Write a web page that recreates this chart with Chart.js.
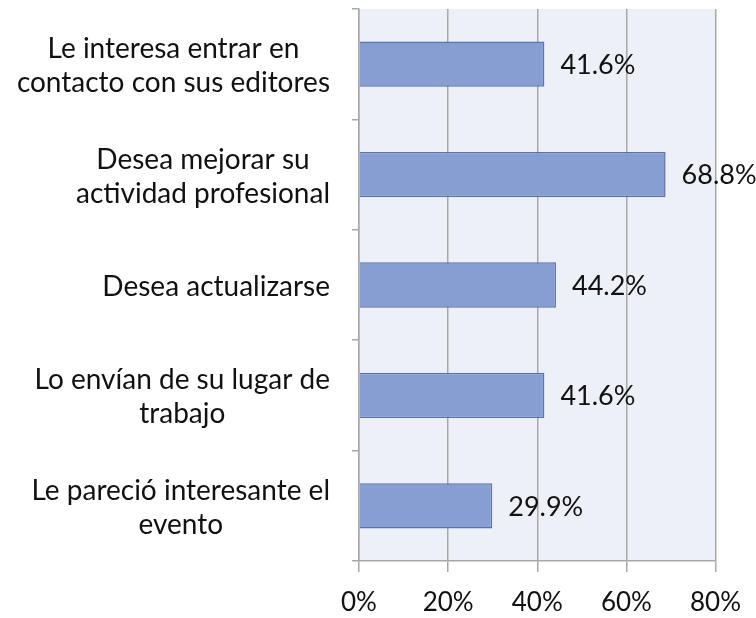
<!DOCTYPE html>
<html>
<head>
<meta charset="utf-8">
<script src="https://cdn.jsdelivr.net/npm/chart.js@4"></script>
<style>
  html, body { margin: 0; padding: 0; background: #ffffff; }
  #c { display: block; }
</style>
</head>
<body>
<canvas id="c" width="756" height="618"></canvas>
<script>
const categories = [
  ["Le interesa entrar en", "contacto con sus editores"],
  ["Desea mejorar su", "actividad profesional"],
  ["Desea actualizarse"],
  ["Lo envían de su lugar de", "trabajo"],
  ["Le pareció interesante el", "evento"]
];
const values = [41.6, 68.8, 44.2, 41.6, 29.9];
const xTicks = [0, 20, 40, 60, 80];

const FONT = "Lato";
const GRID = "#a8a8a8";

const plotBg = {
  id: "plotBg",
  beforeDraw(chart) {
    const { ctx, chartArea: a } = chart;
    ctx.save();
    ctx.fillStyle = "#edf0f6";
    ctx.fillRect(a.left, a.top, a.right - a.left, a.bottom - a.top);
    ctx.restore();
  }
};

const labelsPlugin = {
  id: "labelsPlugin",
  afterDraw(chart) {
    const { ctx } = chart;
    const y = chart.scales.y;
    const meta = chart.getDatasetMeta(0);
    ctx.save();
    ctx.fillStyle = "#111111";
    ctx.textBaseline = "middle";
    // category labels: block right-aligned, lines centered within block
    ctx.font = "28px " + FONT;
    const rightEdge = y.right - 29;
    const lineH = 34;
    categories.forEach((lines, i) => {
      const cy = y.getPixelForValue(i) + 2;
      const widths = lines.map(l => ctx.measureText(l).width);
      const w = Math.max(...widths);
      const cx = rightEdge - w / 2;
      ctx.textAlign = "center";
      lines.forEach((l, j) => {
        const ly = cy + (j - (lines.length - 1) / 2) * lineH;
        ctx.fillText(l, cx, ly);
      });
    });
    // value labels
    ctx.font = "27px " + FONT;
    ctx.textAlign = "left";
    meta.data.forEach((bar, i) => {
      ctx.fillText(values[i].toFixed(1) + "%", bar.x + 16, bar.y + 1);
    });
    ctx.restore();
  }
};

new Chart(document.getElementById("c"), {
  type: "bar",
  data: {
    labels: categories,
    datasets: [{
      data: values,
      backgroundColor: "#879ed2",
      borderColor: "#5873b0",
      borderWidth: 1.5,
      barPercentage: 0.41,
      categoryPercentage: 1
    }]
  },
  options: {
    indexAxis: "y",
    responsive: false,
    devicePixelRatio: 1,
    animation: false,
    layout: { padding: { top: 9, right: 39, bottom: 0, left: 0 } },
    plugins: {
      legend: { display: false },
      tooltip: { enabled: false }
    },
    scales: {
      x: {
        min: 0,
        max: 80,
        afterBuildTicks: (s) => { s.ticks = xTicks.map(v => ({ value: v })); },
        ticks: {
          callback: (v) => v + "%",
          font: { family: FONT, size: 26 },
          color: "#111111",
          padding: 15,
          maxRotation: 0
        },
        grid: { color: GRID, lineWidth: 1.5, tickLength: 11, drawTicks: true },
        border: { display: true, color: GRID, width: 1.5 },
        afterFit: (s) => { s.height = 57; }
      },
      y: {
        ticks: { display: false },
        grid: { drawOnChartArea: false, color: GRID, lineWidth: 1.5, tickLength: 7, offset: true },
        border: { display: true, color: GRID, width: 1.5 },
        afterFit: (s) => { s.width = 359; }
      }
    }
  },
  plugins: [plotBg, labelsPlugin]
});
</script>
</body>
</html>
